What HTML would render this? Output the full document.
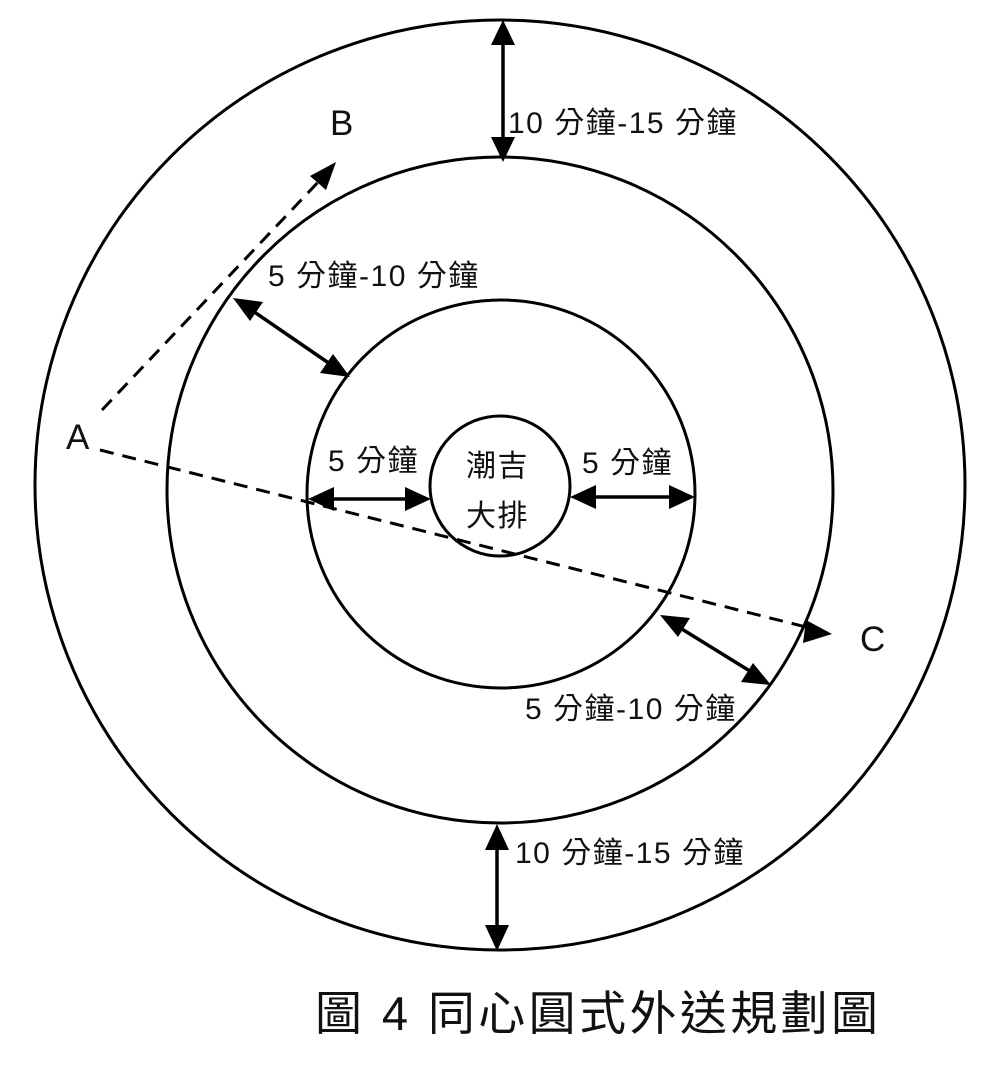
<!DOCTYPE html>
<html><head><meta charset="utf-8"><style>
body{margin:0;background:#fff}
svg text{font-family:"Liberation Sans","Noto Sans CJK TC",sans-serif;fill:#111}
</style></head><body>
<svg width="1000" height="1061" viewBox="0 0 1000 1061" xmlns="http://www.w3.org/2000/svg">
<g fill="none" stroke="#000" stroke-width="3">
<circle cx="500" cy="485" r="465"/>
<circle cx="500" cy="490" r="333"/>
<circle cx="501" cy="494" r="194"/>
<circle cx="500" cy="486" r="70"/>
</g>
<g stroke="#000" stroke-width="3" fill="none" stroke-dasharray="14,9">
<line x1="102" y1="410" x2="322" y2="178"/>
<line x1="100" y1="450" x2="810" y2="628"/>
</g>
<g stroke="#000" stroke-width="3.5">
<line x1="503" y1="40" x2="503" y2="140"/>
<line x1="497" y1="845" x2="497" y2="930"/>
<line x1="250" y1="309" x2="333" y2="366"/>
<line x1="328" y1="499" x2="411" y2="499"/>
<line x1="590" y1="497" x2="675" y2="497"/>
<line x1="677" y1="626" x2="753" y2="673"/>
</g>
<g fill="#000">
<polygon points="503,20 491,45 515,45"/>
<polygon points="503,162 491,137 515,137"/>
<polygon points="497,824 485,850 509,850"/>
<polygon points="497,951 485,925 509,925"/>
<polygon points="233,298 263,302 250,321"/>
<polygon points="350,377 320,373 333,354"/>
<polygon points="308,499 334,487 334,511"/>
<polygon points="431,499 405,487 405,511"/>
<polygon points="570,497 596,485 596,509"/>
<polygon points="695,497 669,485 669,509"/>
<polygon points="660,615 690,618 678,637"/>
<polygon points="771,685 741,682 753,663"/>
<polygon points="336,162 310,176 326,190"/>
<polygon points="832,634 806,620 803,643"/>
</g>
<g font-size="30" letter-spacing="1.5">
<text x="508" y="133">10 分鐘-15 分鐘</text>
<text x="268" y="286">5 分鐘-10 分鐘</text>
<text x="328" y="471">5 分鐘</text>
<text x="582" y="473">5 分鐘</text>
<text x="466" y="476">潮吉</text>
<text x="466" y="526">大排</text>
<text x="525" y="719">5 分鐘-10 分鐘</text>
<text x="515" y="863">10 分鐘-15 分鐘</text>
</g>
<text x="330" y="135" font-size="35">B</text>
<text x="66" y="449" font-size="35">A</text>
<text x="860" y="651" font-size="35">C</text>
<text x="315" y="1030" font-size="47" letter-spacing="3.4">圖 4  同心圓式外送規劃圖</text>
</svg>
</body></html>
